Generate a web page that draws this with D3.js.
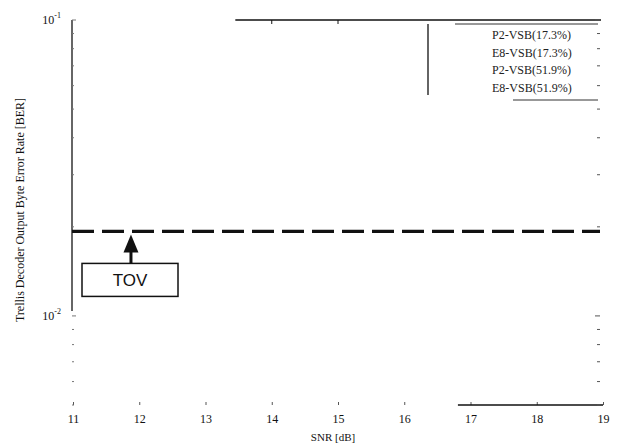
<!DOCTYPE html>
<html><head><meta charset="utf-8">
<script src="https://cdn.jsdelivr.net/npm/d3@7"></script>
<style>
body{margin:0;background:#fff;}
svg{display:block;}
.serif{font-family:"Liberation Serif","Times New Roman",serif;}
</style></head>
<body>
<svg id="c" width="619" height="446"></svg>
<script>
// ---- data ----
const snrTicks = [11, 12, 13, 14, 15, 16, 17, 18, 19];
const berMajor = [0.01, 0.1];
const berMinor = [0.005, 0.006, 0.007, 0.008, 0.009, 0.02, 0.03, 0.04, 0.05, 0.06, 0.07, 0.08, 0.09];
const seriesNames = ["P2-VSB(17.3%)", "E8-VSB(17.3%)", "P2-VSB(51.9%)", "E8-VSB(51.9%)"];
const tovLevel = 0.0193;
const tovLabel = "TOV";
const xLabel = "SNR [dB]";
const yLabel = "Trellis Decoder Output Byte Error Rate [BER]";

const svg = d3.select("#c");
const x = d3.scaleLinear().domain([11, 19]).range([73, 603]);
const y = d3.scaleLog().domain([0.005, 0.1]).range([405, 20]);
const ink = "#111";
const isMajor = d => berMajor.includes(d);

// x axis ticks & labels
const xa = d3.axisBottom(x).tickValues(snrTicks).tickFormat(d3.format("d")).tickSize(-3).tickPadding(9);
const gx = svg.append("g").attr("transform", `translate(0,${y(0.005)})`).call(xa);
gx.select(".domain").remove();
gx.selectAll("line").attr("stroke", "#555");
gx.selectAll("text").attr("class", "serif").attr("font-size", 12).attr("fill", ink);

// top ticks (only a couple remain visible)
svg.selectAll(".tt").data([14, 15]).enter().append("line")
  .attr("x1", d => x(d)).attr("x2", d => x(d)).attr("y1", y(0.1)).attr("y2", y(0.1) + 4)
  .attr("stroke", ink).attr("stroke-width", 1);

// partial frame lines
svg.append("line").attr("x1", x(11) - 1).attr("x2", x(11) - 1).attr("y1", y(0.1)).attr("y2", y(0.0104))
  .attr("stroke", "#333").attr("stroke-width", 1.5);
svg.append("line").attr("x1", x(13.45)).attr("x2", x(19) - 2).attr("y1", y(0.1)).attr("y2", y(0.1))
  .attr("stroke", ink).attr("stroke-width", 1.3);
svg.append("line").attr("x1", x(16.81)).attr("x2", x(19)).attr("y1", y(0.005)).attr("y2", y(0.005))
  .attr("stroke", ink).attr("stroke-width", 1.5);

// left/right minor & major ticks
const allY = berMajor.concat(berMinor);
svg.selectAll(".lt").data(allY).enter().append("line")
  .attr("x1", x(11) - 1).attr("x2", d => x(11) + (isMajor(d) ? 3 : 1))
  .attr("y1", d => y(d)).attr("y2", d => y(d)).attr("stroke", "#777").attr("stroke-width", 1);
svg.selectAll(".rt").data(allY).enter().append("line")
  .attr("x1", x(19) - 3).attr("x2", d => x(19) - (isMajor(d) ? 8 : 6))
  .attr("y1", d => y(d)).attr("y2", d => y(d)).attr("stroke", "#555").attr("stroke-width", 1);

// y axis labels (10^-1, 10^-2)
const yl = svg.selectAll(".yl").data(berMajor).enter().append("text")
  .attr("class", "serif").attr("font-size", 12).attr("fill", ink)
  .attr("text-anchor", "end").attr("x", x(11) - 12).attr("y", d => y(d) + 4);
yl.append("tspan").text("10");
yl.append("tspan").attr("font-size", 8).attr("dy", -6).text(d => "-" + Math.round(-Math.log10(d)));

// axis titles
svg.append("text").attr("class", "serif").attr("font-size", 11).attr("fill", ink)
  .attr("text-anchor", "middle").attr("x", 333).attr("y", 441).text(xLabel);
svg.append("text").attr("class", "serif").attr("font-size", 12).attr("fill", ink)
  .attr("text-anchor", "middle").attr("transform", "translate(24,210) rotate(-90)").text(yLabel);

// TOV dashed line
svg.append("line").attr("x1", x(11) - 1).attr("x2", x(19) - 3)
  .attr("y1", y(tovLevel)).attr("y2", y(tovLevel))
  .attr("stroke", ink).attr("stroke-width", 3.2).attr("stroke-dasharray", "22,8");

// TOV annotation: arrow + box
const ax = x(11.875), ay = y(tovLevel);
svg.append("path").attr("d", `M${ax},${ay + 3} L${ax - 7.5},${ay + 21} L${ax + 7.5},${ay + 21} Z`).attr("fill", ink);
svg.append("line").attr("x1", ax).attr("x2", ax).attr("y1", ay + 20).attr("y2", ay + 32)
  .attr("stroke", ink).attr("stroke-width", 3);
svg.append("rect").attr("x", 82).attr("y", ay + 32).attr("width", 96).attr("height", 33)
  .attr("fill", "#fff").attr("stroke", ink).attr("stroke-width", 1.5);
svg.append("text").attr("x", 130).attr("y", ay + 55).attr("text-anchor", "middle")
  .attr("font-family", "Liberation Sans, Arial, sans-serif").attr("font-size", 17).attr("fill", ink).text(tovLabel);

// legend (box remnants + entries)
svg.append("line").attr("x1", 428).attr("x2", 428).attr("y1", 24).attr("y2", 95).attr("stroke", ink).attr("stroke-width", 1.3);
svg.append("line").attr("x1", 455).attr("x2", 598).attr("y1", 24).attr("y2", 24).attr("stroke", "#333").attr("stroke-width", 1);
svg.append("line").attr("x1", 513).attr("x2", 598).attr("y1", 100).attr("y2", 100).attr("stroke", "#333").attr("stroke-width", 1);
svg.selectAll(".lg").data(seriesNames).enter().append("text")
  .attr("class", "serif").attr("font-size", 12).attr("fill", "#222")
  .attr("x", 492).attr("y", (d, i) => 39 + i * 17.6).text(d => d);
</script>
</body></html>
